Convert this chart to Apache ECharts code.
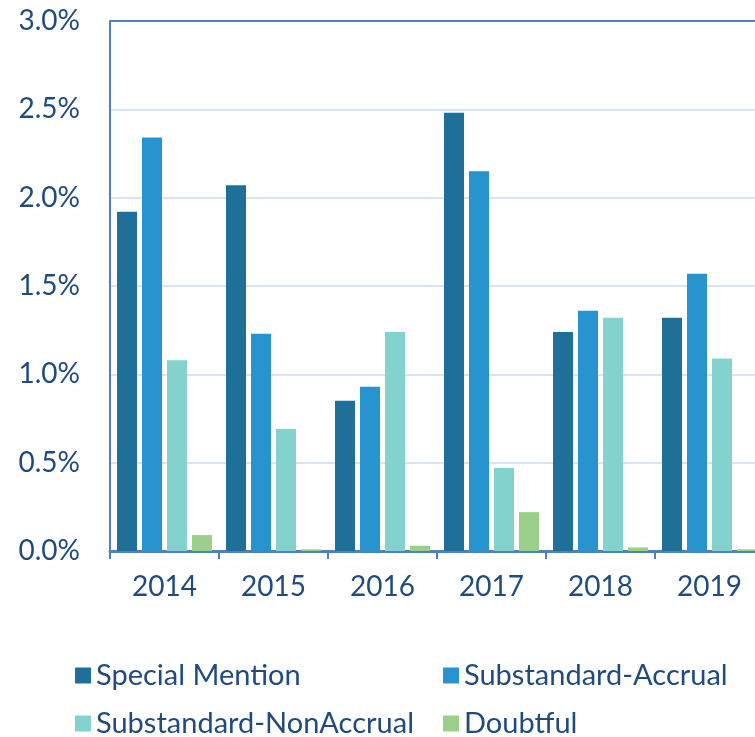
<!DOCTYPE html>
<html>
<head>
<meta charset="utf-8">
<script src="https://cdn.jsdelivr.net/npm/echarts@6/dist/echarts.min.js"></script>
<style>
  html, body { margin: 0; padding: 0; background: #fff; }
  #chart-box { width: 755px; height: 737px; }
</style>
</head>
<body>
<div id="chart-box"></div>
<script>
var years = ['2014', '2015', '2016', '2017', '2018', '2019'];
var specialMention = [1.92, 2.07, 0.85, 2.48, 1.24, 1.32];
var substandardAccrual = [2.34, 1.23, 0.93, 2.15, 1.36, 1.57];
var substandardNonAccrual = [1.08, 0.69, 1.24, 0.47, 1.32, 1.09];
var doubtful = [0.09, 0.01, 0.03, 0.22, 0.02, 0.01];
var yTicks = [0, 0.5, 1.0, 1.5, 2.0, 2.5, 3.0];

var textColor = '#1f4b7f';
var axisColor = '#4f81bd';
var font = 'Lato';

var names = ['Special Mention', 'Substandard-Accrual', 'Substandard-NonAccrual', 'Doubtful'];
var colors = ['#1e7099', '#2794cf', '#84d2ce', '#9bd08a'];
var values = [specialMention, substandardAccrual, substandardNonAccrual, doubtful];

// legend spots: two columns, two rows
var legendPos = [[70, 656], [438, 656], [70, 704], [438, 704]];

var myChart = echarts.init(document.getElementById('chart-box'));

var gridColors = [];
for (var i = 0; i < yTicks.length; i++) {
    gridColors.push(i == yTicks.length - 1 ? axisColor : '#d9e4f3');
}

var option = {
    animation: false,
    grid: {
        left: 110,
        top: 21,
        width: 654,
        bottom: 186,
        outerBoundsMode: 'none'
    },
    legend: names.map(function (n, i) {
        return {
            data: [n],
            left: legendPos[i][0],
            top: legendPos[i][1],
            itemWidth: 16,
            itemHeight: 16,
            icon: 'rect',
            selectedMode: false,
            textStyle: {
                color: textColor,
                fontFamily: font,
                fontSize: 29
            }
        };
    }),
    xAxis: {
        type: 'category',
        data: years,
        boundaryGap: true,
        axisLine: {
            lineStyle: { color: axisColor, width: 3 }
        },
        axisTick: {
            show: true,
            length: 8,
            lineStyle: { color: axisColor, width: 2 }
        },
        axisLabel: {
            color: textColor,
            fontFamily: font,
            fontSize: 28,
            margin: 22
        }
    },
    yAxis: {
        type: 'value',
        min: yTicks[0],
        max: yTicks[yTicks.length - 1],
        interval: 0.5,
        axisLine: {
            show: true,
            lineStyle: { color: axisColor, width: 2 }
        },
        axisTick: { show: false },
        splitLine: {
            lineStyle: { color: gridColors, width: 2 }
        },
        axisLabel: {
            color: textColor,
            fontFamily: font,
            fontSize: 28,
            margin: 30,
            formatter: function (v) { return v.toFixed(1) + '%'; }
        }
    },
    series: names.map(function (n, i) {
        return {
            name: n,
            type: 'bar',
            barWidth: 20,
            barGap: '25%',
            itemStyle: { color: colors[i] },
            data: values[i]
        };
    })
};
myChart.setOption(option);
</script>
</body>
</html>
